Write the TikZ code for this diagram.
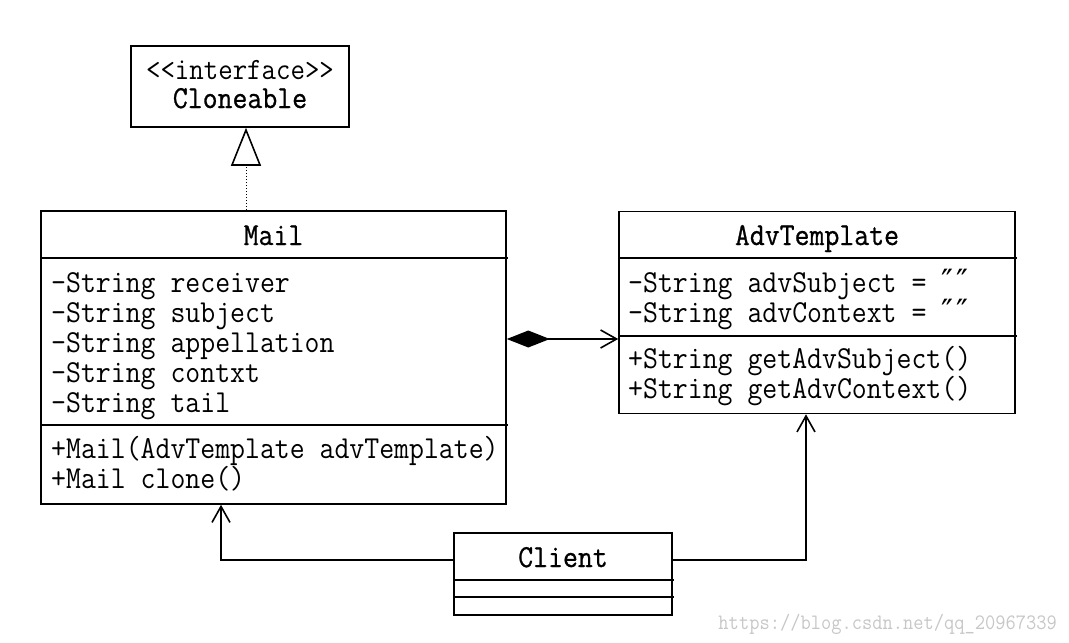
\documentclass[tikz,border=0pt]{standalone}
\usepackage{fontspec}
\newfontfamily\umlfont[FakeStretch=0.905]{Latin Modern Mono}
\newfontfamily\umltitle[FakeStretch=0.905,FakeBold=0.8]{Latin Modern Mono}
\newfontfamily\primefont{DejaVu Sans}
\newcommand{\dprimes}{{\primefont\fontsize{32}{30}\selectfont ″\kern3pt″}}
\usetikzlibrary{arrows.meta}
\begin{document}
\begin{tikzpicture}[x=1pt,y=-1pt,
  box/.style={draw, line width=1.6pt, inner sep=0pt},
  sepline/.style={line width=1.6pt},
  txt/.style={font=\umlfont\fontsize{32}{30}\selectfont, inner sep=0pt, anchor=base west},
  ttl/.style={font=\umltitle\fontsize{32}{30}\selectfont, inner sep=0pt, anchor=base},
  conn/.style={line width=1.6pt},
  openhead/.style={-{Straight Barb[length=16pt,width=18pt,line width=1.6pt]}}
]
\useasboundingbox (0,0) rectangle (1069,643);

% Cloneable
\node[box, minimum width=218pt, minimum height=81pt] (clone) at (240,86.5) {};
\node[font=\umlfont\fontsize{31}{30}\selectfont, inner sep=0pt, anchor=base] (cl1) at (240,79) {<<interface>>};
\node[ttl] (cl2) at (240,108) {Cloneable};

% Mail
\node[box, minimum width=465pt, minimum height=293pt] (mail) at (273.5,357.5) {};
\node[ttl] (mailt) at (273.5,245) {Mail};
\draw[sepline] (mail.west |- 0,258) -- ++(468,0);
\draw[sepline] (mail.west |- 0,425) -- ++(468,0);
\node[txt] (ma1) at (51,292) {-String receiver};
\node[txt] (ma2) at (51,322) {-String subject};
\node[txt] (ma3) at (51,352) {-String appellation};
\node[txt] (ma4) at (51,382) {-String contxt};
\node[txt] (ma5) at (51,412) {-String tail};
\node[txt] (mm1) at (51,458) {+Mail(AdvTemplate advTemplate)};
\node[txt] (mm2) at (51,488) {+Mail clone()};

% AdvTemplate
\node[box, minimum width=396pt, minimum height=202pt] (adv) at (817,312.5) {};
\node[ttl] (advt) at (817,245) {AdvTemplate};
\draw[sepline] (adv.west |- 0,258) -- ++(399,0);
\draw[sepline] (adv.west |- 0,336) -- ++(399,0);
\node[txt] (aa1) at (628,292) {-String advSubject = \dprimes};
\node[txt] (aa2) at (628,322) {-String advContext = \dprimes};
\node[txt] (am1) at (628,368) {+String getAdvSubject()};
\node[txt] (am2) at (628,398) {+String getAdvContext()};

% Client
\node[box, minimum width=218pt, minimum height=82pt] (client) at (563,574) {};
\node[ttl] (clt) at (563,567) {Client};
\draw[sepline] (client.west |- 0,580) -- ++(221,0);
\draw[sepline] (client.west |- 0,597) -- ++(221,0);

% helper coordinates
\coordinate (tri) at (246,0);
\coordinate (comp) at (0,339);
\coordinate (cy) at (0,560);
\coordinate (la) at (221,0);
\coordinate (ra) at (806,0);

% realization
\draw[line width=1pt, dotted, -{Triangle[open,length=38pt,width=30pt,line width=1.6pt]}]
  (mail.north -| tri) -- (clone.south -| tri);

% composition
\draw[conn, {Diamond[length=43pt,width=17pt]}-{Straight Barb[length=16pt,width=18pt,line width=1.6pt]}]
  (mail.east |- comp) -- (adv.west |- comp);

% associations from Client
\draw[conn, openhead] (client.west |- cy) -| (mail.south -| la);
\draw[conn, openhead] (client.east |- cy) -| (adv.south -| ra);

% watermark
\node[font=\umlfont\fontsize{22}{22}\selectfont, text=black!22, inner sep=0pt, anchor=base east] (wm) at (1057,629) {https://blog.csdn.net/qq\_20967339};
\end{tikzpicture}
\end{document}
